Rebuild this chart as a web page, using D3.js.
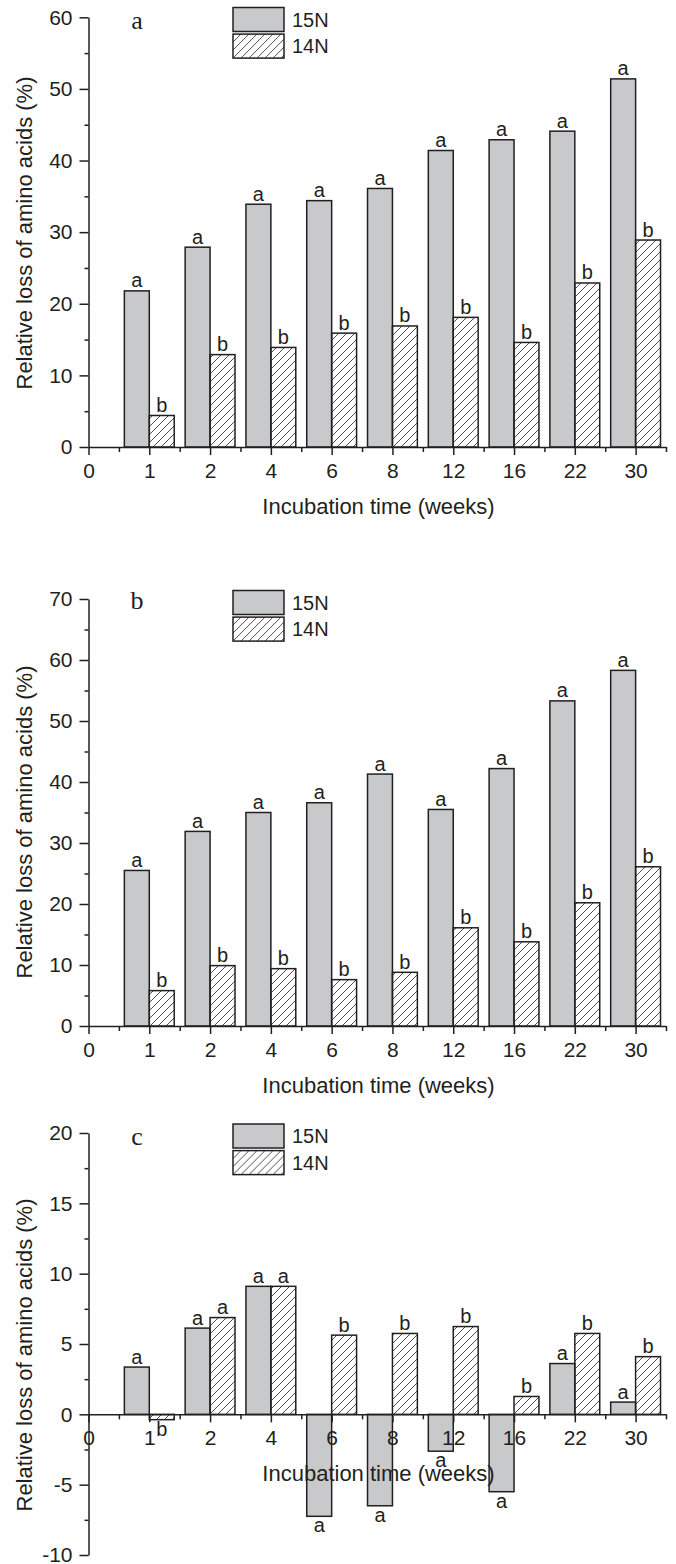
<html>
<head>
<style>
    body { margin: 0; background: #fff; }
    text { font-family: "Liberation Sans", Arial, sans-serif; fill: #231f20; }
    .domain, .tick line { stroke: #231f20; stroke-width: 1.5; }
    .bar { stroke: #231f20; stroke-width: 1.5; }
</style>
<script src="https://cdn.jsdelivr.net/npm/d3@7"></script>
</head>
<body>
<svg id="chart" width="676" height="1564"></svg>
<script>
// x tick labels (index 0 .. 9), bars sit on index 1 .. 9
const weekLabels = ["0", "1", "2", "4", "6", "8", "12", "16", "22", "30"];
const seriesNames = ["15N", "14N"];

// panel a
const a15N = [21.8, 27.9, 33.9, 34.4, 36.1, 41.4, 42.9, 44.1, 51.4];
const a14N = [4.4, 12.9, 13.9, 15.9, 16.9, 18.1, 14.6, 22.9, 28.9];
const a15NLetters = ["a", "a", "a", "a", "a", "a", "a", "a", "a"];
const a14NLetters = ["b", "b", "b", "b", "b", "b", "b", "b", "b"];

// panel b
const b15N = [25.5, 31.9, 35.0, 36.6, 41.3, 35.5, 42.2, 53.3, 58.3];
const b14N = [5.8, 9.9, 9.4, 7.6, 8.8, 16.1, 13.8, 20.2, 26.1];
const b15NLetters = ["a", "a", "a", "a", "a", "a", "a", "a", "a"];
const b14NLetters = ["b", "b", "b", "b", "b", "b", "b", "b", "b"];

// panel c
const c15N = [3.36, 6.13, 9.1, -7.25, -6.5, -2.62, -5.5, 3.61, 0.87];
const c14N = [-0.38, 6.88, 9.1, 5.63, 5.75, 6.24, 1.27, 5.75, 4.1];
const c15NLetters = ["a", "a", "a", "a", "a", "a", "a", "a", "a"];
const c14NLetters = ["b", "a", "a", "b", "b", "b", "b", "b", "b"];

const svg = d3.select("#chart")

// hatch pattern for 14N
let defs = svg.append("defs")
defs.append("pattern")
    .attr("id", "hatch")
    .attr("patternUnits", "userSpaceOnUse")
    .attr("width", 8).attr("height", 8)
    .append("path")
    .attr("d", "M-2,2 l4,-4 M0,8 l8,-8 M6,10 l4,-4")
    .attr("stroke", "#231f20")
    .attr("stroke-width", 0.8)

let xScale = d3.scaleLinear().domain([0, 9.5]).range([88.5, 666])
let barW = 0.41

function drawPanel(cfg){
    let g = svg.append("g")
    let y = d3.scaleLinear().domain(cfg.domain).range(cfg.range)
    let y0 = y(0)

    // bars
    let rows = cfg.s15.map((v, i) => ({i: i + 1, v15: v, v14: cfg.s14[i], l15: cfg.l15[i], l14: cfg.l14[i]}))

    g.selectAll(".b15").data(rows).join("rect")
        .attr("class", "bar")
        .attr("x", d => xScale(d.i - barW))
        .attr("width", d => xScale(d.i) - xScale(d.i - barW))
        .attr("y", d => Math.min(y(d.v15), y0))
        .attr("height", d => Math.abs(y(d.v15) - y0))
        .attr("fill", "#c8c9cb")

    g.selectAll(".b14").data(rows).join("rect")
        .attr("class", "bar")
        .attr("x", d => xScale(d.i))
        .attr("width", d => xScale(d.i + barW) - xScale(d.i))
        .attr("y", d => Math.min(y(d.v14), y0))
        .attr("height", d => Math.abs(y(d.v14) - y0))
        .attr("fill", "url(#hatch)")

    // letters above / below bars
    let lab = (v) => v >= 0 ? y(v) - 3.5 : y(v) + 16
    g.selectAll(".t15").data(rows).join("text")
        .attr("x", d => xScale(d.i - barW / 2))
        .attr("y", d => lab(d.v15))
        .attr("text-anchor", "middle")
        .attr("font-size", 20)
        .text(d => d.l15)
    g.selectAll(".t14").data(rows).join("text")
        .attr("x", d => xScale(d.i + barW / 2))
        .attr("y", d => lab(d.v14))
        .attr("text-anchor", "middle")
        .attr("font-size", 20)
        .text(d => d.l14)

    // y axis
    let yAxis = g.append("g").attr("transform", "translate(88.5,0)")
        .call(d3.axisLeft(y).tickValues(cfg.major).tickSize(9).tickSizeOuter(0).tickPadding(7)
            .tickFormat(d => d < 0 ? "-" + Math.abs(d) : d))
    yAxis.selectAll("text").attr("font-size", 21).attr("fill", "#231f20")
    g.append("g").attr("transform", "translate(88.5,0)")
        .call(d3.axisLeft(y).tickValues(cfg.minor).tickSize(4).tickFormat(""))
        .select(".domain").remove()

    // x axis at zero
    let xAxis = g.append("g").attr("transform", "translate(0," + y0 + ")")
        .call(d3.axisBottom(xScale).tickValues(d3.range(0, 10)).tickSize(8).tickSizeOuter(0).tickPadding(8)
            .tickFormat(i => weekLabels[i]))
    xAxis.selectAll("text").attr("font-size", 21).attr("fill", "#231f20")
    g.append("g").attr("transform", "translate(0," + y0 + ")")
        .call(d3.axisBottom(xScale).tickValues(d3.range(0.5, 10, 1)).tickSize(5).tickFormat(""))
        .select(".domain").remove()

    // titles
    g.append("text")
        .attr("x", 378.5).attr("y", y0 + 67)
        .attr("text-anchor", "middle")
        .attr("font-size", 22)
        .text("Incubation time (weeks)")
    g.append("text")
        .attr("transform", "translate(32," + cfg.yTitle + ") rotate(-90)")
        .attr("text-anchor", "middle")
        .attr("font-size", 22)
        .text("Relative loss of amino acids (%)")

    // panel letter
    g.append("text")
        .attr("x", 137).attr("y", cfg.letterY)
        .attr("text-anchor", "middle")
        .style("font-family", "'Liberation Serif', 'Times New Roman', serif")
        .attr("font-size", 26)
        .text(cfg.name)

    // legend
    let leg = g.selectAll(".leg").data(seriesNames).join("g")
        .attr("transform", (d, k) => "translate(233," + (cfg.legendY + k * 26.6) + ")")
    leg.append("rect")
        .attr("class", "bar")
        .attr("width", 51).attr("height", 24)
        .attr("fill", (d, k) => k == 0 ? "#c8c9cb" : "url(#hatch)")
    leg.append("text")
        .attr("x", 59).attr("y", 12).attr("dy", "0.36em")
        .attr("font-size", 20)
        .text(d => d)
}

drawPanel({name: "a", domain: [0, 60], range: [447, 17.3], major: d3.range(0, 61, 10), minor: d3.range(5, 60, 10),
    s15: a15N, s14: a14N, l15: a15NLetters, l14: a14NLetters, yTitle: 233, letterY: 28.5, legendY: 7.5})
drawPanel({name: "b", domain: [0, 70], range: [1026, 599], major: d3.range(0, 71, 10), minor: d3.range(5, 70, 10),
    s15: b15N, s14: b14N, l15: b15NLetters, l14: b14NLetters, yTitle: 822, letterY: 609, legendY: 590.5})
drawPanel({name: "c", domain: [-10, 20], range: [1555, 1133], major: d3.range(-10, 21, 5), minor: d3.range(-7.5, 20, 5),
    s15: c15N, s14: c14N, l15: c15NLetters, l14: c14NLetters, yTitle: 1355, letterY: 1145, legendY: 1124})
</script>
</body>
</html>
